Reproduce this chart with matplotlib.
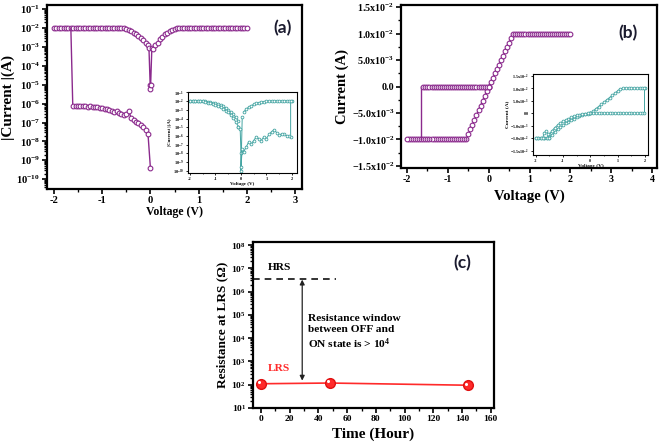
import matplotlib
matplotlib.use('Agg')
import matplotlib.pyplot as plt
import matplotlib.ticker as mticker
import matplotlib.transforms as mtransforms
import numpy as np

# ----------------------------------------------------------------------------------------------------------------------
# Fonts
plt.rcParams['font.family'] = 'serif'
plt.rcParams['font.serif'] = ['Liberation Serif', 'DejaVu Serif']
plt.rcParams['font.weight'] = 'bold'
plt.rcParams['axes.labelweight'] = 'bold'
plt.rcParams['mathtext.fontset'] = 'custom'
plt.rcParams['mathtext.rm'] = 'Liberation Serif:bold'
plt.rcParams['mathtext.it'] = 'Liberation Serif:bold'
plt.rcParams['mathtext.bf'] = 'Liberation Serif:bold'
plt.rcParams['axes.unicode_minus'] = False

PURPLE = '#8b2a8d'
TEAL = '#45a5a3'
RED = '#ff2a2a'

# ----------------------------------------------------------------------------------------------------------------------
# (a) |I|-V on log scale, main curve (A)
a_v_lrs_neg = np.round(np.arange(-2.0, -0.049, 0.05), 2)
a_i_lrs_neg = [1e-2] * 29 + [9.8e-3, 9.2e-3, 8.2e-3, 7.0e-3, 5.6e-3, 4.6e-3, 3.7e-3, 3.0e-3, 2.3e-3,
                             1.6e-3, 1.2e-3]
a_v_dip = [-0.03, -0.005, 0.0, 0.005, 0.03]
a_i_dip = [9e-4, 1e-5, 6e-6, 1e-5, 9e-4]
a_v_lrs_pos = np.round(np.arange(0.05, 2.001, 0.05), 2)
a_i_lrs_pos = [8e-4, 1.2e-3, 1.7e-3, 2.5e-3, 3.5e-3, 4.6e-3, 5.7e-3, 7.0e-3, 8.3e-3, 9.3e-3, 9.8e-3] + [1e-2] * 29
a_v_set = [-1.65, -1.61]
a_i_set = [1e-2, 7.5e-7]
a_v_hrs = np.round(np.arange(-1.6, 0.001, 0.05), 2)
a_i_hrs = [7.5e-7, 7.8e-7, 7.5e-7, 7.8e-7, 7.2e-7, 7.6e-7, 7.0e-7, 7.4e-7, 6.8e-7, 7.0e-7, 6.5e-7,
           6.2e-7, 5.8e-7, 5.2e-7, 5.0e-7, 4.5e-7, 4.2e-7, 3.6e-7, 3.9e-7, 3.2e-7, 3.0e-7, 2.6e-7,
           3.0e-7, 4.3e-7, 1.7e-7, 1.4e-7, 1.1e-7, 9e-8, 7e-8, 5.5e-8, 4e-8, 2.5e-8, 4e-10]

# (a) inset, teal
ia_v_neg = np.round(np.arange(-2.0, -0.099, 0.1), 2)
ia_i_neg1 = [1e-2] * 6 + [9.5e-3, 8.5e-3, 7.5e-3, 6.5e-3, 5.5e-3, 4.5e-3, 3.5e-3, 2.5e-3, 1.7e-3, 1e-3, 6e-4,
                          3e-4, 1.4e-4, 5e-5]
ia_i_neg2 = [1e-2] * 5 + [9.5e-3, 8e-3, 6.5e-3, 5.5e-3, 4.5e-3, 3.5e-3, 2.6e-3, 1.9e-3, 1.3e-3, 8e-4, 5e-4, 2.5e-4,
                          1.1e-4, 4e-5, 1.2e-5]
ia_v_dip = [-0.1, -0.03, 0.0, 0.0, 0.05]
ia_i_dip = [1.2e-5, 6e-6, 1e-8, 1e-10, 1.5e-4]
ia_v_pos = np.round(np.arange(0.1, 2.001, 0.1), 2)
ia_i_pos = [5e-4, 1.2e-3, 2e-3, 3e-3, 4.2e-3, 5.5e-3, 6.7e-3, 7.8e-3, 8.7e-3, 9.4e-3, 9.8e-3] + [1e-2] * 9
ia_v_ret = [1.95, 1.95, 1.9, 1.8, 1.7, 1.6, 1.5, 1.4, 1.3, 1.2, 1.1, 1.0, 0.9, 0.8, 0.7, 0.6, 0.5, 0.4, 0.3,
            0.2, 0.1, 0.05, 0.0]
ia_i_ret = [1e-2, 8e-7, 1e-6, 1.1e-6, 1.5e-6, 1.8e-6, 1.2e-6, 2.5e-6, 5e-6, 3e-6, 1.5e-6, 5e-7, 8e-7, 3e-7,
            5e-7, 8e-7, 3e-7, 1.2e-7, 2e-7, 5e-8, 1.4e-8, 3e-8, 3e-10]

# ----------------------------------------------------------------------------------------------------------------------
# (b) linear I-V (A)
b_v_pos = np.round(np.arange(0.0, 2.001, 0.05), 2)
b_i_pos = [0.0, 8e-4, 1.65e-3, 2.5e-3, 3.3e-3, 4.15e-3, 5e-3, 5.8e-3, 6.65e-3, 7.5e-3, 8.3e-3, 9.15e-3,
           9.9e-3] + [1e-2] * 28
b_v_neg = np.round(np.arange(0.0, -2.001, -0.05), 2)
b_i_neg = [0.0, -9e-4, -1.8e-3, -2.7e-3, -3.6e-3, -4.5e-3, -5.4e-3, -6.3e-3, -7.2e-3, -8.1e-3, -9.0e-3,
           -9.9e-3] + [-1e-2] * 29
b_v_reset = [-1.66, -1.66]
b_i_reset = [-1e-2, -7.5e-7]
b_v_hrs = a_v_hrs
b_i_hrs = [-i for i in a_i_hrs]

# (b) inset, teal
ib_v_pos = np.round(np.arange(0.0, 2.001, 0.1), 2)
ib_i_pos = [0.0, 9e-4, 1.8e-3, 2.7e-3, 3.6e-3, 4.5e-3, 5.4e-3, 6.3e-3, 7.2e-3, 8.1e-3, 9e-3, 9.9e-3] + [1e-2] * 9
ib_v_ret = [1.95, 1.95, 1.9, 1.8, 1.7, 1.6, 1.5, 1.4, 1.3, 1.2, 1.1, 1.0, 0.9, 0.8, 0.7, 0.6, 0.5, 0.4, 0.3,
            0.2, 0.1, 0.0]
ib_i_ret = [1e-2] + [0.0] * 21
ib_v_neg = np.round(np.arange(0.0, -2.001, -0.1), 2)
ib_i_neg1 = [0.0, -1e-4, -3e-4, -6e-4, -1e-3, -1.6e-3, -2.2e-3, -2.8e-3, -3.4e-3, -4e-3, -4.8e-3, -5.6e-3,
             -6.5e-3, -7.5e-3, -8.6e-3, -1e-2] + [-1e-2] * 5
ib_i_neg2 = [0.0, -5e-5, -1.5e-4, -3e-4, -5e-4, -8e-4, -1.2e-3, -1.7e-3, -2.2e-3, -2.7e-3, -3.2e-3, -3.9e-3,
             -4.8e-3, -5.8e-3, -7e-3, -8.5e-3] + [-1e-2] * 5
ib_v_loop = [-1.75, -1.68, -1.62, -1.56, -1.5]
ib_i_loop = [-1e-2, -7.8e-3, -7.2e-3, -8.2e-3, -1e-2]

# ----------------------------------------------------------------------------------------------------------------------
# (c) retention
c_time = [0, 48, 144]
c_lrs = [110, 118, 95]
c_hrs = 3.5e6


def style_axes(ax, lw=1.6, fs=7, major=3.5, minor=2.0):
    for s in ax.spines.values():
        s.set_linewidth(lw)
    ax.tick_params(which='both', direction='out', top=False, right=False, labelsize=fs, pad=1.5)
    ax.tick_params(which='major', length=major, width=lw * 0.75)
    ax.tick_params(which='minor', length=minor, width=lw * 0.6)
    for lab in ax.get_xticklabels() + ax.get_yticklabels():
        lab.set_fontweight('bold')


def decade_fmt(val, pos):
    return r'$10^{%d}$' % int(round(np.log10(val)))


def sci_fmt(val, pos):
    if abs(val) < 1e-12:
        return '0.0'
    exp = int(np.floor(np.log10(abs(val)) + 1e-9))
    mant = val / 10 ** exp
    return r'$%.1f\mathrm{x}10^{%d}$' % (mant, exp)


fig = plt.figure(figsize=(6.6, 4.44), dpi=100)

# ---------------- (a) ----------------
ax_a = fig.add_axes([0.0712, 0.5743, 0.3864, 0.4144])
mk = dict(marker='o', ms=3.4, mfc='white', mec=PURPLE, mew=0.8, color=PURPLE, lw=1)
ax_a.plot(a_v_lrs_neg, a_i_lrs_neg, **mk)
ax_a.plot(a_v_dip, a_i_dip, **mk)
ax_a.plot(a_v_lrs_pos, a_i_lrs_pos, **mk)
ax_a.plot(a_v_set, a_i_set, color=PURPLE, lw=1)
ax_a.plot(a_v_hrs, a_i_hrs, **mk)
ax_a.set_yscale('log')
ax_a.set_xlim(-2.145, 3.145)
ax_a.set_ylim(10 ** -10.52, 10 ** -0.78)
ax_a.yaxis.set_major_locator(mticker.LogLocator(base=10, numticks=20))
ax_a.yaxis.set_minor_locator(mticker.LogLocator(base=10, subs=np.arange(2, 10), numticks=20))
ax_a.yaxis.set_major_formatter(mticker.FuncFormatter(decade_fmt))
ax_a.yaxis.set_minor_formatter(mticker.NullFormatter())
ax_a.xaxis.set_major_locator(mticker.MultipleLocator(1))
ax_a.xaxis.set_minor_locator(mticker.MultipleLocator(0.5))
style_axes(ax_a, fs=7.6)
ax_a.set_xlabel('Voltage (V)', fontsize=8.5, labelpad=1)
ax_a.set_ylabel('|Current |(A)', fontsize=11, labelpad=1)

ax_ia = fig.add_axes([0.2848, 0.6104, 0.1652, 0.1824])
mk_i = dict(marker='o', ms=2.0, mfc='white', mec=TEAL, mew=0.6, color=TEAL, lw=0.7)
ax_ia.plot(ia_v_neg, ia_i_neg1, **mk_i)
ax_ia.plot(ia_v_neg, ia_i_neg2, **mk_i)
ax_ia.plot(ia_v_dip, ia_i_dip, **mk_i)
ax_ia.plot(ia_v_pos, ia_i_pos, **mk_i)
ax_ia.plot(ia_v_ret, ia_i_ret, **mk_i)
ax_ia.set_yscale('log')
ax_ia.set_xlim(-2.08, 2.2)
ax_ia.set_ylim(10 ** -10.25, 10 ** -0.95)
ax_ia.yaxis.set_major_locator(mticker.LogLocator(base=10, numticks=20))
ax_ia.yaxis.set_minor_locator(mticker.NullLocator())
ax_ia.yaxis.set_major_formatter(mticker.FuncFormatter(decade_fmt))
ax_ia.xaxis.set_major_locator(mticker.MultipleLocator(1))
ax_ia.xaxis.set_minor_locator(mticker.MultipleLocator(0.5))
style_axes(ax_ia, lw=0.8, fs=3.2, major=1.5, minor=1.0)
ax_ia.set_xlabel('Voltage (V)', fontsize=3.6, labelpad=0.5)
ax_ia.set_ylabel('|Current |(A)', fontsize=3.6, labelpad=0.5)

# ---------------- (b) ----------------
ax_b = fig.add_axes([0.6076, 0.6216, 0.3879, 0.3671])
ax_b.plot(b_v_pos, b_i_pos, **mk)
ax_b.plot(b_v_neg, b_i_neg, **mk)
ax_b.plot(b_v_reset, b_i_reset, color=PURPLE, lw=1)
ax_b.plot(b_v_hrs, b_i_hrs, **mk)
ax_b.set_xlim(-2.147, 4.12)
ax_b.set_ylim(-1.54e-2, 1.54e-2)
ax_b.xaxis.set_major_locator(mticker.MultipleLocator(1))
ax_b.xaxis.set_minor_locator(mticker.MultipleLocator(0.5))
ax_b.yaxis.set_major_locator(mticker.MultipleLocator(5e-3))
ax_b.yaxis.set_minor_locator(mticker.MultipleLocator(2.5e-3))
ax_b.yaxis.set_major_formatter(mticker.FuncFormatter(sci_fmt))
style_axes(ax_b, fs=7.2)
ax_b.set_xlabel('Voltage (V)', fontsize=10.5, labelpad=4)
ax_b.set_ylabel('Current (A)', fontsize=10.5, labelpad=2)

ax_ib = fig.add_axes([0.8071, 0.6509, 0.1752, 0.1824])
ax_ib.plot(ib_v_pos, ib_i_pos, **mk_i)
ax_ib.plot(ib_v_ret, ib_i_ret, **mk_i)
ax_ib.plot(ib_v_neg, ib_i_neg1, **mk_i)
ax_ib.plot(ib_v_neg, ib_i_neg2, **mk_i)
ax_ib.plot(ib_v_loop, ib_i_loop, **mk_i)
ax_ib.set_xlim(-2.11, 2.12)
ax_ib.set_ylim(-1.68e-2, 1.58e-2)
ax_ib.xaxis.set_major_locator(mticker.MultipleLocator(1))
ax_ib.xaxis.set_minor_locator(mticker.MultipleLocator(0.5))
ax_ib.yaxis.set_major_locator(mticker.MultipleLocator(5e-3))
ax_ib.yaxis.set_major_formatter(mticker.FuncFormatter(sci_fmt))
style_axes(ax_ib, lw=0.8, fs=3.0, major=1.5, minor=1.0)
ax_ib.set_xlabel('Voltage (V)', fontsize=3.8, labelpad=0.5)
ax_ib.set_ylabel('Current (A)', fontsize=3.8, labelpad=0.5)

# ---------------- (c) ----------------
ax_c = fig.add_axes([0.3833, 0.0811, 0.3652, 0.3739])
ax_c.plot(c_time, c_lrs, color=RED, lw=1.2, marker='o', ms=7, mfc=RED, mec='#e01010', zorder=3)
hl = mtransforms.offset_copy(ax_c.transData, fig=fig, x=-1.2, y=1.2, units='points')
ax_c.plot(c_time, c_lrs, ls='none', marker='o', ms=2.2, mfc='white', mec='none', transform=hl, zorder=4)
ax_c.set_yscale('log')
ax_c.set_xlim(-5.6, 162.3)
ax_c.set_ylim(10, 10 ** 8.13)
ax_c.hlines(c_hrs, -5.6, 52, colors='#111111', linestyles=(0, (4, 3)), lw=1.2)
ax_c.annotate('', xy=(28.7, c_hrs * 0.93), xytext=(28.7, 150),
              arrowprops=dict(arrowstyle='<|-|>', color='#222222', lw=0.9, mutation_scale=7,
                              shrinkA=0, shrinkB=0))
ax_c.text(5, 10 ** 7.05, 'HRS', fontsize=8.2, ha='left', va='center')
ax_c.text(5, 10 ** 2.68, 'LRS', fontsize=8.2, ha='left', va='center', color=RED)
ax_c.text(32.8, 10 ** 4.24, 'Resistance window\nbetween OFF and\nON state is > 10$^{4}$',
          fontsize=8.2, ha='left', va='center', linespacing=1.25)
ax_c.yaxis.set_major_locator(mticker.LogLocator(base=10, numticks=20))
ax_c.yaxis.set_minor_locator(mticker.LogLocator(base=10, subs=np.arange(2, 10), numticks=20))
ax_c.yaxis.set_major_formatter(mticker.FuncFormatter(decade_fmt))
ax_c.yaxis.set_minor_formatter(mticker.NullFormatter())
ax_c.xaxis.set_major_locator(mticker.MultipleLocator(20))
ax_c.xaxis.set_minor_locator(mticker.MultipleLocator(10))
style_axes(ax_c, fs=6.8)
ax_c.set_xlabel('Time (Hour)', fontsize=11, labelpad=3)
ax_c.set_ylabel('Resistance at LRS (\u03a9)', fontsize=9.5, labelpad=2)

# panel letters
for x, y, s in [(283, 28, '(a)'), (628, 33, '(b)'), (462, 263, '(c)')]:
    fig.text(x / 660, 1 - y / 444, s, family='Lato', weight='bold', fontsize=12.5, ha='center', va='center',
             color='#1b1b2f')

fig.savefig('out.png', dpi=100)
